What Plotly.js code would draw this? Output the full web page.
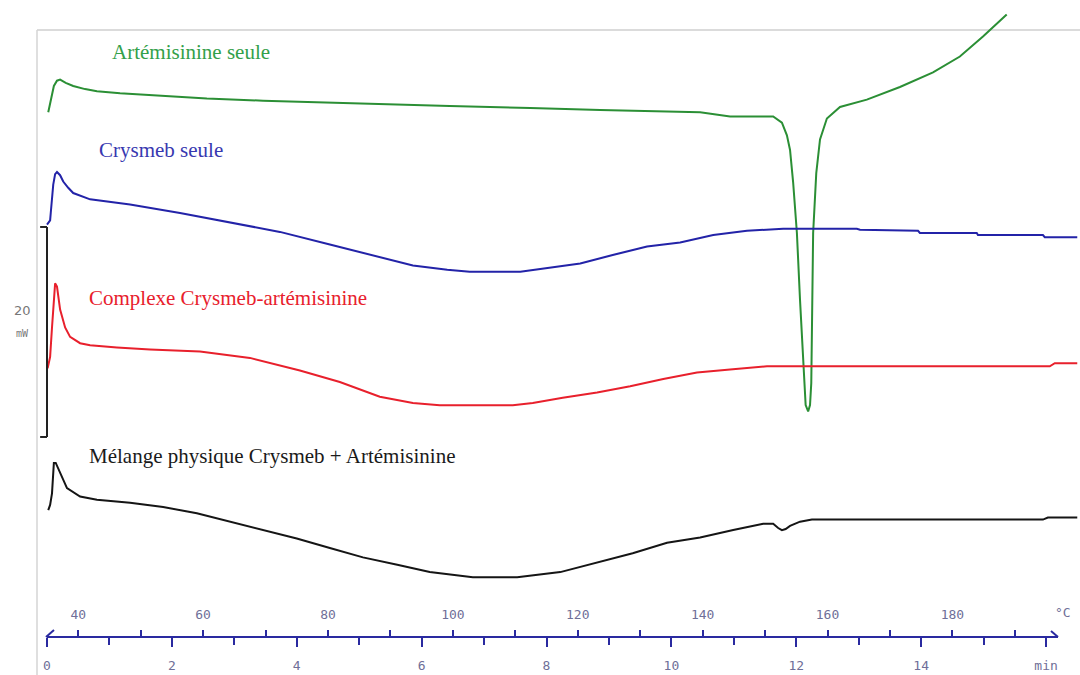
<!DOCTYPE html>
<html>
<head>
<meta charset="utf-8">
<script src="https://cdn.plot.ly/plotly-3.0.1.min.js"></script>
<style>html,body{margin:0;padding:0;background:#fff;}#chart{width:1080px;height:675px;}</style>
</head>
<body>
<div id="chart"></div>
<script>
// Temperature (°C) and heat-flow signal (mW, curves offset vertically as in the thermogram)
const artemT = [35.2,35.6,36.1,36.6,37.1,38.0,39.2,41.1,43.0,46.7,52.8,60.6,69.6,80.3,91.1,99.5,112.4,123.6,139.6,144.4,151.3,152.7,153.5,154.0,154.5,155.1,155.6,156.1,156.5,156.9,157.2,157.4,157.5,157.7,158.2,158.8,159.9,162.0,166.3,171.6,176.9,181.2,184.9,188.7];
const artemY = [53.6,54.8,56.1,56.6,56.7,56.4,56.1,55.8,55.6,55.4,55.2,54.9,54.7,54.5,54.3,54.2,54.0,53.8,53.6,53.2,53.2,52.6,51.4,50.0,46.9,42.1,35.7,29.3,25.7,25.1,25.7,27.8,35.7,42.1,47.8,51.0,53.0,54.1,54.8,56.0,57.4,58.9,60.8,62.9];

const crysT = [35.0,35.5,35.6,36.0,36.3,36.6,37.1,37.6,38.4,39.2,41.9,48.3,56.3,64.3,72.3,80.3,88.3,93.6,99.1,102.7,110.8,116.0,120.4,125.6,131.1,136.4,141.7,147.1,152.9,164.7,165.2,174.5,174.8,183.9,184.1,194.5,194.8,200.0];
const crysY = [42.9,43.3,44.0,46.7,47.7,47.9,47.6,47.0,46.4,45.9,45.3,44.8,44.0,43.1,42.2,41.0,39.8,39.0,38.6,38.4,38.4,38.8,39.2,40.0,40.8,41.2,41.9,42.3,42.5,42.5,42.4,42.3,42.1,42.1,41.9,41.9,41.7,41.7];

const compT = [35.1,35.5,35.8,36.1,36.3,36.6,37.1,37.9,38.7,40.3,41.9,46.2,51.5,59.5,67.5,75.5,81.9,88.3,93.6,97.9,109.6,112.8,117.6,123.1,128.4,133.7,139.1,144.4,150.3,195.6,196.4,200.0];
const compY = [29.2,30.3,33.1,36.2,37.3,37.0,34.8,33.1,32.2,31.6,31.4,31.2,31.0,30.8,30.2,29.0,27.9,26.5,25.9,25.7,25.7,25.9,26.4,26.9,27.5,28.2,28.8,29.1,29.4,29.4,29.7,29.7];

const melT = [35.2,35.5,35.8,36.1,36.4,36.8,37.4,38.2,40.3,43.0,48.3,53.6,59.0,64.3,69.6,75.0,80.3,85.6,91.1,96.3,103.2,110.3,117.2,123.6,128.8,134.3,139.6,144.9,149.7,151.3,152.1,152.7,153.3,154.0,155.6,157.5,194.5,195.3,200.0];
const melY = [15.7,16.2,17.3,20.2,20.2,19.7,18.8,17.8,17.0,16.7,16.4,16.0,15.4,14.6,13.8,13.0,12.1,11.2,10.5,9.8,9.3,9.3,9.8,10.8,11.6,12.6,13.1,13.8,14.4,14.4,14.0,13.8,13.9,14.2,14.6,14.8,14.8,15.0,15.0];

const seriesNames = ["Artémisinine seule","Crysmeb seule","Complexe Crysmeb-artémisinine","Mélange physique Crysmeb + Artémisinine"];
const seriesColors = ["#2b8f35","#2323a8","#e8202c","#151515"];
const labelColors = ["#33a04a","#3838b0","#e8202c","#1a1a1a"];

// time axis (min) and temperature axis (°C) labels
const minTicks = [0,2,4,6,8,10,12,14,16];
const minLabels = ["0","2","4","6","8","10","12","14","min"];
const tempTicks = [40,60,80,100,120,140,160,180];
const tempLabels = ["40","60","80","100","120","140","160","180"];

// scale bar: 20 mW
const scaleTop = 42.67, scaleBottom = 22.67, scaleT = 35.0;

// geometry (pixel layout of the thermogram)
const W = 1080, H = 675;
const pxPerDeg = 6.244;          // horizontal pixels per °C (10 °C/min)
const px0 = 47;                   // pixel of 35 °C / 0 min
const pxPerMW = 10.5;
const T0 = 35 - px0 / pxPerDeg, T1 = 35 + (W - px0) / pxPerDeg;
const axEnd = 1058;
const axisPos = (H - 637) / H;

const xs = [artemT, crysT, compT, melT];
const ys = [artemY, crysY, compY, melY];
const traces = xs.map((x, i) => ({
  x: x, y: ys[i], type: 'scatter', mode: 'lines', name: seriesNames[i],
  line: {color: seriesColors[i], width: 2}, xaxis: 'x', yaxis: 'y', hoverinfo: 'skip'
}));
// dummy traces to activate the display axes
traces.push({x: [0], y: [0], xaxis: 'x2', yaxis: 'y', mode: 'markers', marker: {opacity: 0}, showlegend: false, hoverinfo: 'skip'});
traces.push({x: [40], y: [0], xaxis: 'x3', yaxis: 'y', mode: 'markers', marker: {opacity: 0}, showlegend: false, hoverinfo: 'skip'});

const dom = [px0 / W, axEnd / W];
const tickFont = {family: 'DejaVu Sans Mono, monospace', size: 13, color: '#6f6f98'};
const axisColor = '#2a2aa0';

const labelPos = [[110, 52], [97, 150], [87, 298], [87, 456]];
const annotations = seriesNames.map((n, i) => ({
  text: n, xref: 'paper', yref: 'paper', x: labelPos[i][0] / W, y: 1 - labelPos[i][1] / H,
  xanchor: 'left', yanchor: 'middle', showarrow: false,
  font: {family: 'Liberation Serif, Times New Roman, serif', size: 21, color: labelColors[i]}
}));
annotations.push({text: '20', xref: 'paper', yref: 'paper', x: 22 / W, y: 1 - 310 / H, showarrow: false, xanchor: 'center', yanchor: 'middle', font: {family: 'DejaVu Sans, sans-serif', size: 13, color: '#777'}});
annotations.push({text: 'mW', xref: 'paper', yref: 'paper', x: 22 / W, y: 1 - 333 / H, showarrow: false, xanchor: 'center', yanchor: 'middle', font: {family: 'DejaVu Sans Mono, monospace', size: 10, color: '#777'}});
annotations.push({text: '°C', xref: 'paper', yref: 'paper', x: 1063 / W, y: 1 - 612 / H, showarrow: false, xanchor: 'center', yanchor: 'middle', font: tickFont});

const shapes = [
  // frame
  {type: 'line', xref: 'paper', yref: 'paper', x0: 37 / W, x1: 1, y0: 1 - 30 / H, y1: 1 - 30 / H, line: {color: '#cfcfcf', width: 1.5}, layer: 'below'},
  {type: 'line', xref: 'paper', yref: 'paper', x0: 37 / W, x1: 37 / W, y0: 0, y1: 1 - 30 / H, line: {color: '#d4d4d4', width: 1.5}, layer: 'below'},
  // scale bar
  {type: 'line', xref: 'x', yref: 'y', x0: scaleT, x1: scaleT, y0: scaleBottom, y1: scaleTop, line: {color: '#222', width: 2}},
  {type: 'line', xref: 'x', yref: 'y', x0: scaleT - 1.1, x1: scaleT, y0: scaleTop, y1: scaleTop, line: {color: '#222', width: 2}},
  {type: 'line', xref: 'x', yref: 'y', x0: scaleT - 1.1, x1: scaleT, y0: scaleBottom, y1: scaleBottom, line: {color: '#222', width: 2}},
  // axis end hooks
  {type: 'line', xref: 'paper', yref: 'paper', x0: 46 / W, x1: 54 / W, y0: 1 - 637 / H, y1: 1 - 630 / H, line: {color: axisColor, width: 2}},
  {type: 'line', xref: 'paper', yref: 'paper', x0: 1051 / W, x1: 1058 / W, y0: 1 - 631 / H, y1: 1 - 637 / H, line: {color: axisColor, width: 2}}
];

const layout = {
  width: W, height: H, margin: {l: 0, r: 0, t: 0, b: 0},
  paper_bgcolor: '#fff', plot_bgcolor: 'rgba(0,0,0,0)', showlegend: false,
  xaxis: {range: [T0, T1], visible: false, fixedrange: true},
  yaxis: {range: [0, H / pxPerMW], visible: false, fixedrange: true},
  xaxis2: {
    domain: dom, range: [0, (axEnd - px0) / (pxPerDeg * 10)], anchor: 'free', position: axisPos, side: 'bottom',
    showline: true, linecolor: axisColor, linewidth: 2, showgrid: false, zeroline: false,
    tickmode: 'array', tickvals: minTicks, ticktext: minLabels, ticks: 'outside', ticklen: 9, tickwidth: 2, tickcolor: axisColor,
    ticklabelstandoff: 7, tickfont: tickFont,
    minor: {dtick: 1, tick0: 0, ticks: 'outside', ticklen: 7, tickwidth: 2, tickcolor: axisColor, showgrid: false}
  },
  xaxis3: {
    domain: dom, range: [35, 35 + (axEnd - px0) / pxPerDeg], anchor: 'free', position: axisPos, side: 'top', overlaying: 'x2',
    showline: false, showgrid: false, zeroline: false,
    tickmode: 'array', tickvals: tempTicks, ticktext: tempLabels, ticks: 'outside', ticklen: 7, tickwidth: 2, tickcolor: axisColor,
    ticklabelstandoff: 6, tickfont: tickFont,
    minor: {dtick: 10, tick0: 30, ticks: 'outside', ticklen: 7, tickwidth: 2, tickcolor: axisColor, showgrid: false}
  },
  annotations: annotations, shapes: shapes
};
Plotly.newPlot('chart', traces, layout, {staticPlot: true, displayModeBar: false});
</script>
</body>
</html>
